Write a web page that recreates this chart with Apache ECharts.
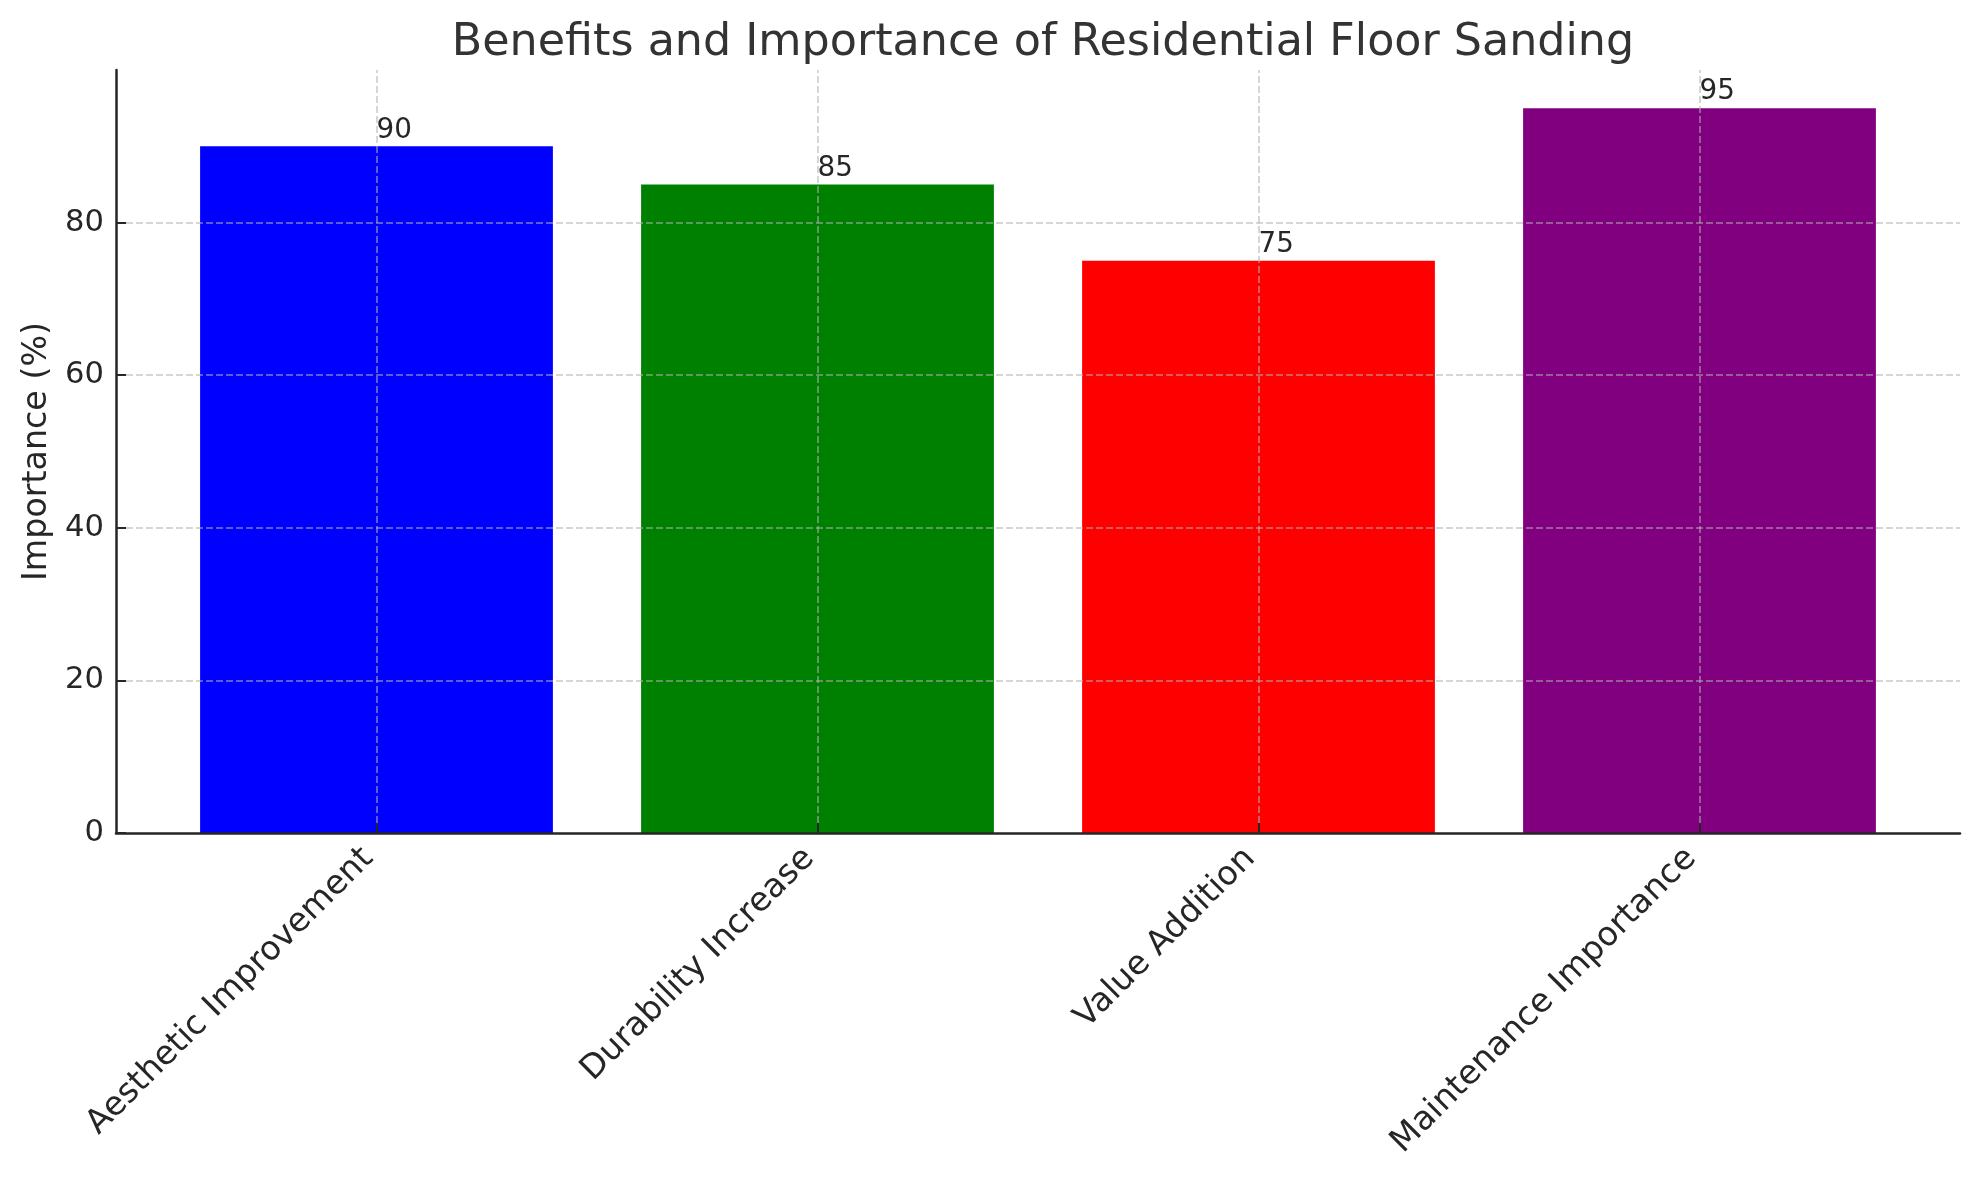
<!DOCTYPE html>
<html>
<head>
<meta charset="utf-8">
<script src="https://cdn.jsdelivr.net/npm/echarts@6/dist/echarts.min.js"></script>
<style>
html,body{margin:0;padding:0;background:#fff;}
#chart{width:1979px;height:1180px;}
</style>
</head>
<body>
<div id="chart"></div>
<script>
const titleText = 'Benefits and Importance of Residential Floor Sanding';
const yAxisTitle = 'Importance (%)';
const categories = ['Aesthetic Improvement', 'Durability Increase', 'Value Addition', 'Maintenance Importance'];
const values = [90, 85, 75, 95];
const barColors = ['#0000ff', '#008000', '#ff0000', '#800080'];
const yMin = 0, yMax = 100, yStep = 20;

const FONT = 'DejaVu Sans';
const TXT = '#262626';
const GRIDC = 'rgba(176,176,176,0.7)';

const chart = echarts.init(document.getElementById('chart'), null, {renderer: 'canvas'});
chart.setOption({
  backgroundColor: '#ffffff',
  animation: false,
  textStyle: {fontFamily: FONT},
  title: {
    text: titleText,
    left: 1038,
    textAlign: 'center',
    top: 16,
    textStyle: {fontFamily: FONT, fontSize: 44.4, fontWeight: 'normal', color: '#333333'}
  },
  grid: [
    {left: 116, right: 19, top: 70, bottom: 347, containLabel: false},
    {left: 156, right: 59, top: 70, bottom: 347, containLabel: false}
  ],
  xAxis: [
    {
      gridIndex: 0, type: 'value', min: 0, max: 1, z: 6,
      axisLine: {show: true, onZero: false, lineStyle: {color: TXT, width: 2.5}},
      axisTick: {show: false}, axisLabel: {show: false}, splitLine: {show: false}
    },
    {
      gridIndex: 1, type: 'category', data: categories, z: 6,
      axisLine: {show: false},
      axisTick: {show: true, inside: true, alignWithLabel: true, length: 10, lineStyle: {color: TXT, width: 2}},
      axisLabel: {rotate: 45, margin: 12, fontSize: 33.3, color: TXT, fontFamily: FONT, interval: 0,
        padding: [0, 12, 0, 0]},
      splitLine: {show: false}
    }
  ],
  yAxis: [
    {
      gridIndex: 0, type: 'value', min: yMin, max: yMax, interval: yStep, z: 5,
      name: yAxisTitle, nameLocation: 'middle', nameGap: 62, nameRotate: 90,
      nameTextStyle: {fontSize: 33.3, color: TXT, fontFamily: FONT},
      axisLine: {show: true, lineStyle: {color: TXT, width: 2.5}},
      axisTick: {show: true, inside: true, length: 10, lineStyle: {color: TXT, width: 2}},
      axisLabel: {fontSize: 30.6, color: TXT, margin: 12, fontFamily: FONT, showMaxLabel: false},
      splitLine: {show: true, showMinLine: false, showMaxLine: false,
        lineStyle: {color: GRIDC, width: 1.5, type: [7, 3]}}
    },
    {
      gridIndex: 1, type: 'value', min: yMin, max: yMax, interval: yStep, show: false
    }
  ],
  series: [
    {
      type: 'bar',
      xAxisIndex: 1, yAxisIndex: 1,
      barWidth: '80%',
      z: 2,
      data: values.map((v, i) => ({value: v, itemStyle: {color: barColors[i]}})),
      label: {
        show: true, position: 'top', distance: 2, align: 'left',
        formatter: '{c}', fontSize: 27.8, color: TXT, fontFamily: FONT
      },
      markLine: {
        silent: true, symbol: 'none', z: 5,
        label: {show: false},
        lineStyle: {color: GRIDC, width: 1.5, type: [7, 3]},
        data: categories.map(c => ({xAxis: c}))
      }
    }
  ]
});
</script>
</body>
</html>
